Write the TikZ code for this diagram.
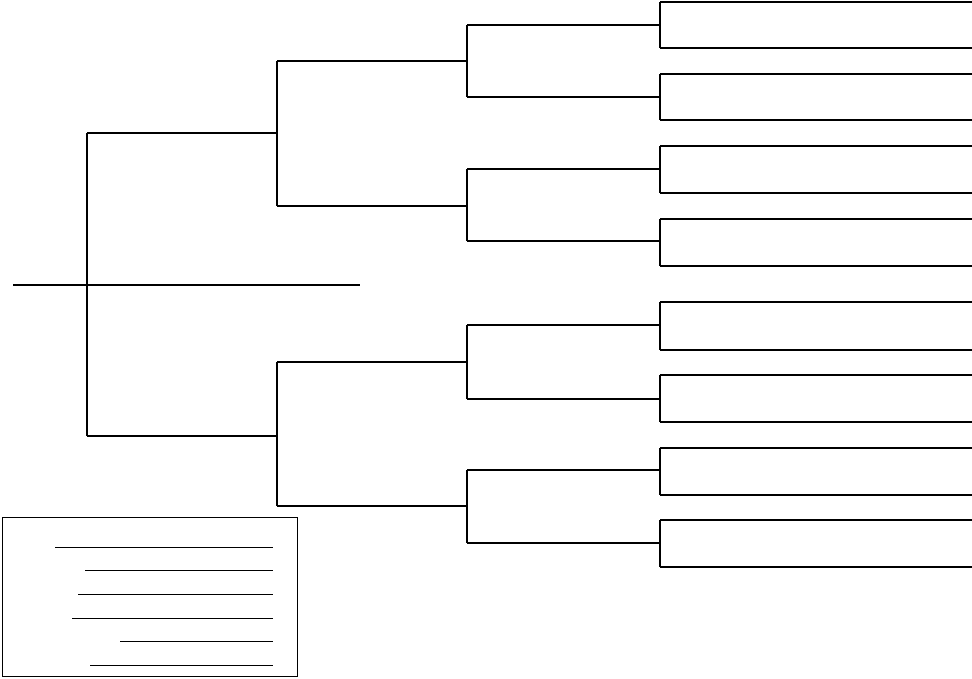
\documentclass[tikz,border=0pt]{standalone}
\begin{document}
\begin{tikzpicture}[x=1pt,y=-1pt,br/.style={line width=2.2pt},thin box/.style={line width=0.8pt}]
\useasboundingbox (0,0) rectangle (972,678);
\draw[br] (13,285) -- (360,285);
\draw[br] (87,133) -- (87,436);
\draw[br] (87,133) -- (277,133);
\draw[br] (87,436) -- (277,436);
\draw[br] (277,61) -- (277,206);
\draw[br] (277,362) -- (277,506);
\foreach \y in {61,206,362,506} \draw[br] (277,\y) -- (467,\y);
\foreach \a/\b in {25/97,169/241,325/399,470/543} {
  \draw[br] (467,\a) -- (467,\b);
  \draw[br] (467,\a) -- (660,\a);
  \draw[br] (467,\b) -- (660,\b);
}
\foreach \a/\b in {2/48,74/120,146/193,219/266,302/350,375/422,448/495,520/567} {
  \draw[br] (660,\a) -- (660,\b);
  \draw[br] (660,\a) -- (972,\a);
  \draw[br] (660,\b) -- (972,\b);
}
\draw[thin box] (2,517) rectangle (297,676);
\foreach \y/\x in {547/55,570/85,594/78,618/72,641/120,665/90}
  \draw[line width=1pt] (\x,\y) -- (273,\y);
\end{tikzpicture}
\end{document}
